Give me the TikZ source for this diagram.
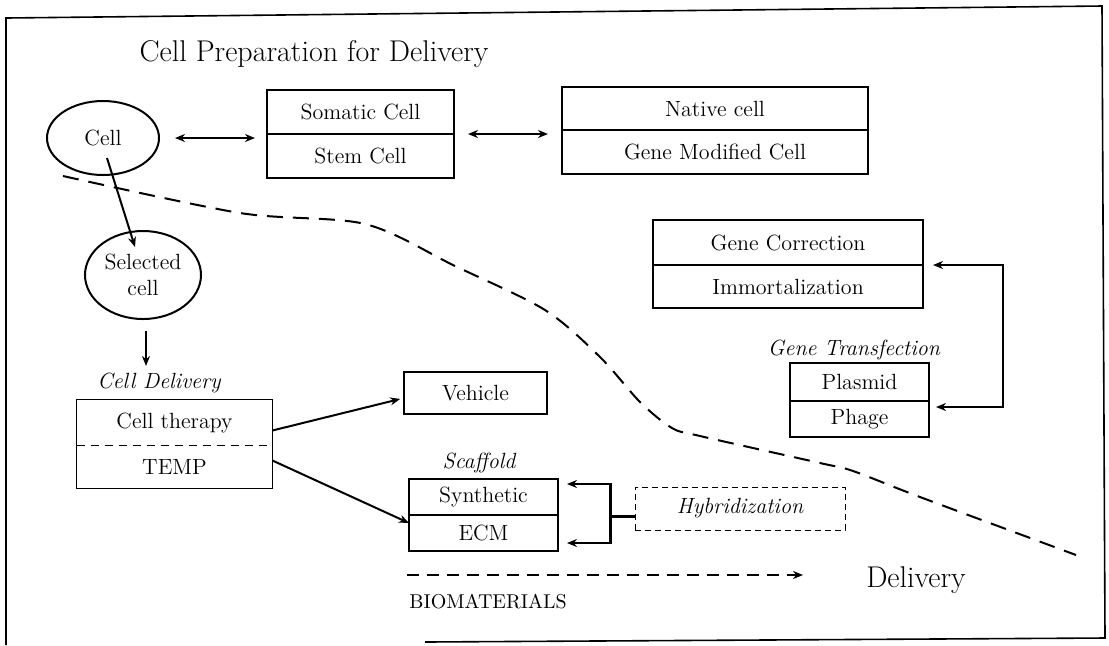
\documentclass[tikz,border=0pt]{standalone}
\usetikzlibrary{shapes.geometric,arrows.meta}
\begin{document}
\begin{tikzpicture}[x=0.5pt,y=-0.5pt,font=\fontsize{11}{13}\selectfont,
	part/.style={draw,line width=.6pt,inner sep=0,outer sep=0},
	blob/.style={draw,ellipse,line width=1pt,align=center,inner sep=0},
	lab/.style={font=\fontsize{11}{13}\selectfont\itshape},
	arr/.style={-{Stealth[length=5pt,width=4pt]},line width=1pt},
	biarr/.style={{Stealth[length=5pt,width=4pt]}-{Stealth[length=5pt,width=4pt]},line width=1pt}]
	\useasboundingbox (0,0) rectangle (1109,645);
	% frame
	\draw[line width=.8pt] (6,645) -- (6,18) -- (1102,6) -- (1105,638) -- (425,642);
	\node[font=\fontsize{15}{17}\selectfont] (title) at (314,54) {Cell Preparation for Delivery};
	% cells
	\node[blob,minimum width=56pt,minimum height=37pt] (cell) at (103,138) {Cell};
	\node[blob,minimum width=58pt,minimum height=44pt] (selected) at (143,275) {Selected\\cell};
	\node[part,minimum width=93.5pt,minimum height=22pt] (somatic) at (360.5,112) {Somatic Cell};
	\node[part,minimum width=93.5pt,minimum height=22pt] (stem) at (360.5,156) {Stem Cell};
	\node[part,minimum width=153pt,minimum height=21.5pt] (native) at (715,108.5) {Native cell};
	\node[part,minimum width=153pt,minimum height=22pt] (modified) at (715,152) {Gene Modified Cell};
	\node[part,minimum width=135pt,minimum height=22.5pt] (correction) at (788,242.5) {Gene Correction};
	\node[part,minimum width=135pt,minimum height=21.5pt] (immortal) at (788,286.5) {Immortalization};
	\node[lab] (transfect) at (854,350) {Gene Transfection};
	\node[part,minimum width=69.5pt,minimum height=19pt] (plasmid) at (859.5,382) {Plasmid};
	\node[part,minimum width=69.5pt,minimum height=18pt] (phage) at (859.5,419) {Phage};
	% delivery
	\node[lab] (dlabel) at (159,383) {Cell Delivery};
	\node[minimum width=97.5pt,minimum height=22.5pt,inner sep=0] (therapy) at (174.5,422.5) {Cell therapy};
	\node[minimum width=97.5pt,minimum height=21.5pt,inner sep=0] (temp) at (174.5,466.5) {TEMP};
	\draw[line width=.6pt] (therapy.north west) rectangle (temp.south east);
	\draw[line width=.6pt,dash pattern=on 4pt off 3pt] (therapy.south west) -- (therapy.south east);
	\node[part,minimum width=71.5pt,minimum height=21pt] (vehicle) at (475.5,393) {Vehicle};
	\node[lab] (scaffold) at (479,463) {Scaffold};
	\node[part,minimum width=74.5pt,minimum height=18pt] (synthetic) at (483.5,497) {Synthetic};
	\node[part,minimum width=74.5pt,minimum height=18pt] (ecm) at (483.5,533) {ECM};
	\node[lab,draw,line width=.5pt,dash pattern=on 3pt off 2pt,minimum width=105pt,minimum height=21.5pt] (hybrid) at (740,508.5) {Hybridization};
	\node[font=\fontsize{15}{17}\selectfont] (delivery) at (916,580) {Delivery};
	\node[font=\fontsize{10}{12}\selectfont] (bio) at (488,602) {BIOMATERIALS};
	\coordinate (bioA) at (407,575);
	\coordinate (bioB) at (803,575);
	% connectors
	\draw[biarr,shorten <=7.5pt,shorten >=6pt] (cell.east) -- (cell.east -| somatic.west);
	\draw[biarr,shorten <=7pt,shorten >=7pt] (somatic.south east) -- (somatic.south east -| native.west);
	\draw[arr] ([shift={(4,20)}]cell.center) -- ([shift={(-8,-28)}]selected.center);
	\draw[arr,shorten <=5.5pt] ([xshift=1.5pt]selected.south) -- ([xshift=1.5pt]selected.south |- dlabel.north);
	\draw[arr,shorten >=2pt] ([yshift=-4pt]therapy.east) -- ([yshift=-2.5pt]vehicle.west);
	\draw[arr] ([yshift=3pt]temp.east) -- ([yshift=-4pt]synthetic.south west);
	\draw[arr,line width=1.2pt,shorten >=4.5pt] ([yshift=-4pt]hybrid.west) -- ++(-24,0) |- ([yshift=6.5pt]synthetic.east);
	\draw[arr,line width=1.2pt,shorten >=4.5pt] ([yshift=-4pt]hybrid.west) -- ++(-24,0) |- ([yshift=-5pt]ecm.east);
	\draw[biarr,line width=1.2pt,shorten <=5pt,shorten >=3.5pt] (correction.south east) -- ++(80,0) |- ([yshift=-3pt]plasmid.south east);
	\draw[arr,line width=1.3pt,dash pattern=on 6pt off 4pt] (bioA) -- (bioB);
	% border between preparation and delivery
	\draw[line width=1pt,dash pattern=on 8pt off 5pt] plot[smooth,tension=.5] coordinates {(63,176) (240,213) (365,224) (455,266) (545,310) (600,357) (640,402) (672,428) (700,436) (820,463) (853,471) (920,497) (1076,555)};
\end{tikzpicture}
\end{document}
